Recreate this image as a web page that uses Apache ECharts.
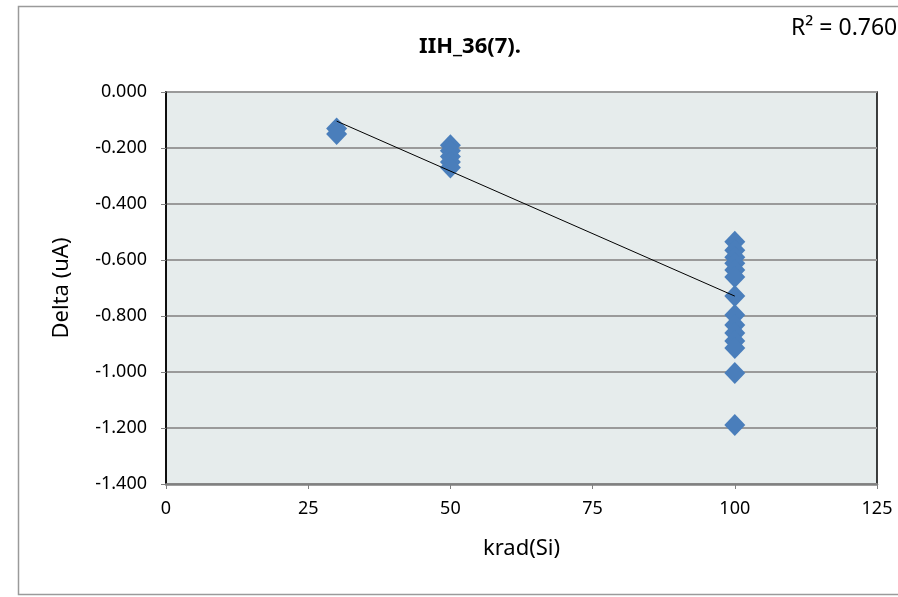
<!DOCTYPE html>
<html><head><meta charset="utf-8">
<script src="https://cdn.jsdelivr.net/npm/echarts@6/dist/echarts.min.js"></script>
<style>html,body{margin:0;padding:0;background:#fff}#c{width:898px;height:597px}</style>
</head><body><div id="c"></div>
<script>
const xs30 = [30, 30];
const ys30 = [-0.130, -0.150];
const xs50 = [50, 50, 50, 50, 50];
const ys50 = [-0.190, -0.210, -0.230, -0.250, -0.270];
const xs100 = [100,100,100,100,100,100,100,100,100,100,100,100,100,100];
const ys100 = [-0.535, -0.565, -0.590, -0.612, -0.636, -0.661, -0.729, -0.796, -0.832, -0.861, -0.889, -0.914, -1.004, -1.189];
const trendX = [30, 100];
const trendY = [-0.104, -0.729];
const xTicks = [0, 25, 50, 75, 100, 125];
const yTicks = [0, -0.2, -0.4, -0.6, -0.8, -1.0, -1.2, -1.4];

const pts = [];
[[xs30, ys30], [xs50, ys50], [xs100, ys100]].forEach(([a, b]) => a.forEach((x, i) => pts.push([x, b[i]])));
const trend = trendX.map((x, i) => [x, trendY[i]]);

const FONT = 'Noto Sans';
const chart = echarts.init(document.getElementById('c'));
chart.setOption({
  animation: false,
  textStyle: { fontFamily: FONT },
  graphic: [
    { type: 'rect', shape: { x: 18.5, y: 6.5, width: 900, height: 588 }, style: { fill: 'none', stroke: '#9a9a9a', lineWidth: 1.5 }, z: -10 },
    { type: 'text', x: 470, y: 47, style: { text: 'IIH_36(7).', fontSize: 22, fontWeight: 'bold', fontFamily: FONT, fill: '#000', align: 'center', verticalAlign: 'middle' } },
    { type: 'text', x: 791, y: 28, style: { text: 'R² = 0.760', fontSize: 23, fontFamily: FONT, fill: '#000', align: 'left', verticalAlign: 'middle' } }
  ],
  grid: { left: 166, right: 21, top: 92, bottom: 113, show: true, backgroundColor: '#E6ECEC', borderColor: '#000', borderWidth: 1.5 },
  xAxis: {
    type: 'value', min: 0, max: 125, interval: 25,
    name: 'krad(Si)', nameLocation: 'middle', nameGap: 54,
    nameTextStyle: { fontSize: 22, color: '#000', fontFamily: FONT },
    axisLine: { show: true, onZero: false, lineStyle: { color: '#808080', width: 2.5 } },
    axisTick: { show: true, length: 5, lineStyle: { color: '#808080' } },
    axisLabel: { fontSize: 18, color: '#000', margin: 16, fontFamily: FONT, formatter: v => xTicks.includes(v) ? String(v) : '' },
    splitLine: { show: false }
  },
  yAxis: {
    type: 'value', min: -1.4, max: 0, interval: 0.2,
    name: 'Delta (uA)', nameLocation: 'middle', nameGap: 93, nameRotate: 90,
    nameTextStyle: { fontSize: 22, color: '#000', fontFamily: FONT },
    axisLine: { show: true, onZero: false, lineStyle: { color: '#000', width: 1.5 } },
    axisTick: { show: true, length: 5, lineStyle: { color: '#808080' } },
    axisLabel: { fontSize: 18, color: '#000', margin: 19, fontFamily: FONT, formatter: v => (Math.abs(v) < 1e-9 ? 0 : v).toFixed(3) },
    splitLine: { show: true, lineStyle: { color: '#9a9a9a', width: 2 } }
  },
  series: [
    { type: 'scatter', data: pts, symbol: 'diamond', symbolSize: [21, 22], itemStyle: { color: '#4A7EBB', opacity: 1 }, z: 3 },
    { type: 'line', data: trend, showSymbol: false, symbol: 'none', lineStyle: { color: '#000', width: 1 }, z: 4 }
  ]
});
</script></body></html>
